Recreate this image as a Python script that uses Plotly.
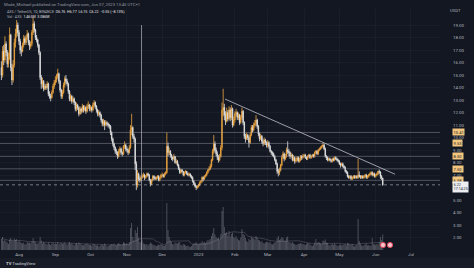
import plotly.graph_objects as go
import pandas as pd

# ---------------- data (AXS / TetherUS, 1D, Binance) ----------------
start_date = "2022-07-17"
first_open = 15.6

closes = [
    # Jul 17-31 2022
    15.0, 16.9, 16.2, 17.5, 16.8, 15.9, 16.4, 18.2, 15.6, 14.6, 15.8, 17.6, 18.3, 19.0, 18.4,
    # Aug
    17.7, 17.0, 16.9, 17.4, 17.9, 17.6, 18.0, 18.3, 17.6, 17.3, 17.5, 18.4, 19.1, 18.6, 18.0, 17.8,
    17.4, 16.8, 14.8, 14.3, 14.5, 13.9, 14.1, 14.0, 14.3, 13.5, 13.3, 13.2, 13.6, 14.1, 14.4,
    # Sep
    14.6, 14.9, 15.1, 14.5, 13.8, 13.3, 13.6, 14.2, 14.7, 14.5, 14.3, 13.7, 13.1, 13.3, 12.9,
    13.1, 12.8, 12.3, 12.6, 12.4, 11.9, 12.3, 12.1, 12.5, 12.2, 12.4, 12.1, 12.5, 12.6, 12.3,
    # Oct
    12.4, 12.2, 12.6, 12.8, 12.5, 12.2, 11.9, 12.0, 11.8, 11.4, 11.1, 11.3, 11.0, 11.2, 11.1, 11.0,
    10.9, 10.4, 9.9, 9.5, 9.2, 8.9, 8.8, 8.5, 8.9, 9.1, 8.8, 8.7, 9.3, 9.4, 9.1,
    # Nov
    9.0, 8.8, 9.2, 10.6, 10.8, 10.1, 9.9, 7.9, 6.2, 7.1, 6.7, 6.6, 6.8, 6.9, 7.0,
    6.8, 6.9, 7.1, 7.0, 6.6, 6.3, 6.6, 6.9, 6.8, 6.7, 6.8, 6.9, 6.6, 6.8, 7.0,
    # Dec
    7.0, 6.9, 7.1, 7.2, 9.3, 8.8, 8.9, 8.6, 8.4, 8.3, 8.5, 8.0, 8.1, 7.8, 7.5, 7.2,
    7.4, 7.3, 7.0, 7.2, 7.3, 7.1, 7.0, 7.1, 6.9, 6.8, 6.5, 6.3, 6.1, 6.0, 6.1,
    # Jan 2023
    6.2, 6.4, 6.5, 6.8, 6.7, 6.9, 7.0, 7.2, 7.4, 7.5, 7.7, 8.2, 8.9, 9.5, 9.0, 8.7,
    8.4, 8.2, 8.5, 9.2, 12.2, 12.4, 11.8, 11.3, 12.0, 11.5, 12.2, 11.6, 12.3, 11.0, 11.4,
    # Feb
    11.9, 12.0, 11.6, 11.8, 11.2, 11.6, 12.1, 11.2, 10.1, 9.9, 10.2, 10.0, 9.6, 10.2,
    10.8, 10.6, 11.0, 11.1, 11.4, 10.9, 10.3, 9.9, 10.1, 9.7, 9.5, 9.8, 9.6, 9.4,
    # Mar
    9.6, 9.3, 8.9, 8.8, 8.7, 8.5, 8.2, 7.9, 7.3, 7.2, 7.4, 7.8, 8.4, 8.7, 8.3, 8.5,
    9.0, 8.9, 8.8, 8.5, 8.6, 8.2, 8.4, 8.1, 8.2, 8.4, 8.1, 8.2, 8.5, 8.4, 8.5,
    # Apr
    8.6, 8.4, 8.3, 8.5, 8.6, 8.4, 8.5, 8.6, 8.5, 8.8, 8.9, 8.7, 9.0, 9.1, 9.2,
    9.3, 9.4, 9.1, 8.5, 8.4, 8.2, 8.3, 8.2, 8.1, 8.3, 8.2, 8.4, 8.3, 8.2, 8.1,
    # May
    7.9, 7.8, 7.9, 7.7, 7.6, 7.3, 7.2, 6.9, 6.8, 6.9, 6.7, 6.8, 6.9, 6.8, 6.9, 6.8,
    7.0, 6.9, 6.8, 6.9, 6.8, 6.9, 7.0, 6.8, 6.9, 7.0, 7.1, 7.2, 7.0, 7.1, 6.9,
    # Jun 1-7
    7.0, 7.1, 7.3, 7.25, 6.9, 6.76, 6.22,
]

highs = [
    16.1, 17.3, 17.4, 18.1, 17.7, 17.0, 16.8, 18.8, 18.3, 15.9, 16.2, 17.9, 18.7, 19.4, 19.2,
    18.6, 17.9, 17.3, 17.6, 18.2, 18.1, 18.2, 18.6, 18.4, 17.8, 17.7, 18.6, 19.6, 19.3, 18.7, 18.2,
    17.9, 17.5, 16.9, 15.0, 14.8, 14.6, 14.3, 14.3, 14.5, 14.4, 13.7, 13.5, 13.8, 14.3, 14.6,
    14.9, 15.1, 15.5, 15.2, 14.6, 13.9, 13.8, 14.4, 14.9, 15.0, 14.7, 14.4, 13.8, 13.5, 13.4,
    13.3, 13.2, 12.9, 12.8, 12.7, 12.5, 12.5, 12.4, 12.7, 12.6, 12.6, 12.5, 12.7, 12.9, 12.7,
    12.6, 12.5, 12.8, 13.0, 12.9, 12.6, 12.3, 12.2, 12.1, 11.9, 11.5, 11.5, 11.4, 11.4, 11.3, 11.2,
    11.1, 11.0, 10.5, 10.0, 9.6, 9.3, 9.1, 8.9, 9.1, 9.3, 9.2, 8.9, 9.4, 9.7, 9.5,
    9.3, 9.1, 9.4, 11.0, 11.9, 10.9, 10.3, 10.0, 8.1, 7.4, 7.2, 6.9, 7.0, 7.1, 7.2,
    7.1, 7.0, 7.2, 7.2, 7.1, 6.7, 6.7, 7.0, 7.0, 6.9, 6.9, 7.0, 7.0, 6.9, 7.1,
    7.2, 7.1, 7.2, 7.3, 10.4, 9.6, 9.2, 9.0, 8.7, 8.5, 8.7, 8.5, 8.3, 8.2, 7.9, 7.6,
    7.5, 7.5, 7.3, 7.3, 7.4, 7.3, 7.2, 7.2, 7.1, 7.0, 6.9, 6.6, 6.4, 6.2, 6.2,
    6.3, 6.5, 6.6, 6.9, 6.9, 7.0, 7.1, 7.3, 7.5, 7.7, 7.9, 8.3, 9.1, 10.2, 9.7, 9.2,
    8.9, 8.6, 8.7, 9.4, 12.8, 13.9, 12.7, 12.1, 12.4, 12.2, 12.5, 12.4, 12.6, 12.4, 11.7,
    12.1, 12.3, 12.1, 12.0, 11.9, 11.8, 12.4, 12.2, 11.3, 10.3, 10.4, 10.3, 10.1, 10.4,
    11.0, 11.0, 11.2, 11.4, 11.8, 11.5, 11.0, 10.4, 10.3, 10.2, 9.9, 10.0, 9.9, 9.7,
    9.8, 9.7, 9.4, 9.0, 8.9, 8.8, 8.6, 8.3, 8.0, 7.5, 7.6, 7.9, 8.6, 8.9, 8.8, 8.7,
    9.2, 9.7, 9.1, 8.9, 8.8, 8.7, 8.6, 8.5, 8.4, 8.5, 8.5, 8.4, 8.6, 8.6, 8.7,
    8.7, 8.7, 8.5, 8.6, 8.7, 8.7, 8.6, 8.7, 8.7, 8.9, 9.0, 9.0, 9.1, 9.2, 9.3,
    9.4, 9.6, 9.5, 9.2, 8.6, 8.5, 8.4, 8.4, 8.3, 8.4, 8.4, 8.5, 8.5, 8.4, 8.3,
    8.2, 8.0, 8.0, 8.0, 7.8, 7.7, 7.4, 7.3, 7.0, 7.0, 7.0, 6.9, 7.0, 7.0, 7.0, 7.0,
    8.3, 7.3, 7.0, 7.0, 7.0, 7.0, 7.1, 7.1, 7.0, 7.1, 7.2, 7.3, 7.3, 7.2, 7.2,
    7.1, 7.2, 7.35, 7.45, 7.3, 7.0, 6.77,
]

lows = [
    14.6, 14.8, 15.8, 16.0, 16.5, 15.6, 15.6, 16.2, 15.3, 14.2, 14.4, 15.6, 17.2, 18.0, 18.1,
    17.4, 16.7, 16.5, 16.8, 17.2, 17.4, 17.4, 17.8, 17.4, 17.0, 17.1, 17.3, 18.2, 18.4, 17.8, 17.6,
    17.2, 16.6, 14.6, 13.9, 14.0, 13.7, 13.8, 13.8, 13.9, 13.3, 13.1, 12.9, 13.1, 13.5, 13.9,
    14.2, 14.4, 14.7, 14.3, 13.6, 13.1, 13.1, 13.5, 14.0, 14.3, 14.1, 13.5, 12.9, 12.9, 12.7,
    12.8, 12.6, 12.1, 12.1, 12.2, 11.7, 11.8, 11.9, 12.0, 12.0, 12.1, 11.9, 12.0, 12.3, 12.1,
    12.1, 12.0, 12.1, 12.4, 12.3, 12.0, 11.7, 11.7, 11.6, 11.2, 10.9, 10.9, 10.6, 10.9, 10.9, 10.8,
    10.7, 10.2, 9.7, 9.3, 9.0, 8.7, 8.6, 8.3, 8.4, 8.7, 8.6, 8.5, 8.6, 9.1, 8.9,
    8.8, 8.6, 8.7, 9.1, 10.2, 9.9, 9.6, 7.4, 5.8, 6.0, 6.5, 6.4, 6.5, 6.7, 6.8,
    6.6, 6.7, 6.8, 6.9, 6.5, 6.1, 6.2, 6.5, 6.6, 6.6, 6.6, 6.7, 6.5, 6.5, 6.7,
    6.8, 6.8, 6.8, 7.0, 7.1, 8.5, 8.6, 8.4, 8.2, 8.1, 8.2, 7.9, 7.9, 7.7, 7.4, 7.1,
    7.1, 7.2, 6.9, 6.9, 7.1, 7.0, 6.9, 6.9, 6.8, 6.7, 6.4, 6.2, 6.0, 5.8, 5.9,
    6.0, 6.1, 6.3, 6.4, 6.5, 6.6, 6.8, 6.9, 7.1, 7.3, 7.4, 7.6, 8.1, 8.7, 8.8, 8.5,
    8.2, 8.0, 8.1, 8.4, 9.0, 11.7, 11.4, 11.0, 11.2, 11.3, 11.4, 11.3, 11.4, 10.8, 10.9,
    11.2, 11.7, 11.4, 11.4, 11.0, 11.1, 11.4, 11.0, 9.9, 9.6, 9.8, 9.8, 9.2, 9.5,
    10.1, 10.4, 10.5, 10.8, 10.9, 10.7, 10.1, 9.7, 9.8, 9.5, 9.3, 9.4, 9.4, 9.2,
    9.2, 9.1, 8.8, 8.6, 8.5, 8.4, 8.1, 7.8, 7.1, 6.9, 7.0, 7.3, 7.7, 8.3, 8.1, 8.2,
    8.4, 8.7, 8.5, 8.3, 8.4, 8.1, 8.1, 7.9, 8.0, 8.1, 8.0, 8.0, 8.1, 8.2, 8.3,
    8.4, 8.3, 8.2, 8.2, 8.4, 8.3, 8.3, 8.4, 8.4, 8.4, 8.7, 8.6, 8.6, 8.9, 9.0,
    9.1, 9.2, 9.0, 8.4, 8.2, 8.1, 8.1, 8.1, 8.0, 8.0, 8.1, 8.1, 8.2, 8.1, 8.0,
    7.8, 7.6, 7.7, 7.6, 7.5, 7.2, 7.1, 6.8, 6.7, 6.7, 6.6, 6.6, 6.7, 6.7, 6.7, 6.7,
    6.7, 6.8, 6.7, 6.7, 6.7, 6.7, 6.8, 6.7, 6.7, 6.8, 6.9, 7.0, 6.9, 6.9, 6.8,
    6.8, 6.9, 7.0, 7.1, 6.7, 6.6, 6.15,
]

volumes_m = [
    2.2, 2.6, 1.8, 2.0, 1.7, 1.5, 1.2, 2.1, 2.4, 1.9, 1.8, 2.3, 2.0, 2.2, 1.6,
    1.9, 1.6, 1.4, 1.3, 1.5, 1.1, 1.2, 1.6, 1.4, 1.5, 1.3, 1.7, 2.4, 1.8, 1.5, 1.2,
    1.3, 1.4, 2.6, 1.9, 1.3, 1.6, 1.4, 1.2, 1.1, 1.5, 1.2, 1.0, 1.3, 1.4, 1.2,
    1.3, 1.2, 1.6, 1.1, 1.3, 1.4, 1.2, 1.3, 1.5, 1.2, 1.0, 1.3, 1.6, 1.2, 1.3,
    1.1, 0.9, 1.2, 1.4, 1.1, 1.5, 1.3, 1.1, 1.0, 0.9, 1.1, 1.2, 1.3, 1.1, 1.0,
    1.0, 0.8, 1.1, 1.2, 1.0, 0.9, 1.0, 0.7, 0.8, 1.1, 1.0, 0.9, 1.3, 1.0, 0.7, 0.8,
    0.9, 1.0, 1.2, 1.1, 1.3, 1.0, 0.9, 1.2, 1.4, 1.2, 1.0, 1.1, 1.6, 1.4, 1.2,
    1.3, 1.2, 1.6, 4.4, 5.4, 2.6, 1.9, 4.0, 3.4, 4.6, 2.5, 1.6, 1.5, 1.9, 1.3,
    1.2, 1.1, 1.2, 0.9, 1.2, 1.5, 1.3, 1.1, 1.0, 0.9, 0.8, 0.9, 1.1, 1.0, 1.2,
    1.0, 0.9, 0.8, 1.0, 9.4, 4.0, 2.6, 1.9, 1.6, 1.2, 1.1, 1.5, 1.4, 1.3, 1.5, 1.6,
    1.0, 0.9, 1.2, 1.1, 0.9, 0.8, 0.9, 0.7, 0.6, 0.8, 1.1, 1.3, 1.4, 1.6, 1.2,
    1.1, 1.3, 1.4, 1.8, 1.5, 1.6, 1.4, 1.7, 2.0, 1.9, 2.2, 2.8, 3.4, 4.4, 3.1, 2.6,
    2.3, 2.5, 2.0, 3.2, 7.8, 8.6, 4.6, 3.4, 3.6, 2.9, 3.8, 2.7, 3.2, 3.5, 2.6,
    2.4, 2.8, 2.3, 2.0, 1.9, 2.5, 4.2, 3.2, 3.0, 2.4, 1.8, 1.6, 2.2, 2.0,
    2.6, 2.4, 2.3, 2.1, 2.8, 2.4, 2.0, 1.9, 1.6, 1.8, 1.4, 1.3, 1.5, 1.6,
    1.6, 1.4, 1.7, 1.2, 1.1, 1.3, 1.5, 1.6, 2.4, 2.8, 2.0, 2.2, 2.6, 2.4, 1.9, 1.8,
    2.5, 2.7, 1.6, 1.5, 1.4, 1.6, 1.3, 1.2, 1.0, 1.1, 1.3, 1.2, 1.4, 1.3, 1.2,
    1.1, 1.0, 1.2, 1.4, 1.3, 1.1, 0.9, 0.8, 1.0, 1.5, 2.2, 1.4, 1.6, 1.5, 1.3,
    1.2, 1.9, 1.8, 2.1, 1.5, 1.4, 1.0, 0.9, 1.1, 1.2, 1.0, 1.3, 1.1, 0.9, 0.8,
    1.0, 1.1, 0.9, 1.0, 1.1, 1.2, 0.9, 1.4, 1.3, 1.1, 1.0, 1.2, 0.8, 0.7, 0.9, 1.0,
    6.2, 1.8, 1.2, 0.9, 0.8, 1.0, 1.1, 1.3, 0.9, 1.0, 0.8, 0.9, 2.4, 1.2, 1.1,
    1.0, 1.2, 1.1, 1.6, 2.6, 2.0, 3.1,
]

# drawings
level_prices = [10.41, 9.53, 8.50, 7.50, 6.58]
level_labels = ["10.41", "9.53", "8.50", "7.50", "6.58"]
trend_dates = ["2023-01-23 14:00", "2023-06-17 10:00"]
trend_prices = [13.08, 7.07]
vline_date = "2022-11-13 10:00"
vline_top = 19.0
last_price = 6.22

month_ticks = ["2022-08-01", "2022-09-01", "2022-10-01", "2022-11-01", "2022-12-01",
               "2023-01-01", "2023-02-01", "2023-03-01", "2023-04-01", "2023-05-01",
               "2023-06-01", "2023-07-01", "2023-08-01"]
month_labels = ["Aug", "Sep", "Oct", "Nov", "Dec", "2023", "Feb", "Mar", "Apr", "May",
                "Jun", "Jul", "Aug"]
price_ticks = [2, 3, 4, 5, 7, 8, 9, 10, 11, 12, 13, 14, 15, 16, 17, 18, 19]

# ---------------- build ----------------
dates = pd.date_range(start_date, periods=len(closes), freq="D")
opens = [first_open] + closes[:-1]
highs = [max(h, o, c) for h, o, c in zip(highs, opens, closes)]
lows = [min(l, o, c) for l, o, c in zip(lows, opens, closes)]
vol_ma = pd.Series(volumes_m).rolling(20, min_periods=1).mean()

BG = "#131722"
UP = "#eea640"
DOWN = "#e6e6e6"
TXT = "#b2b5be"
FONT = "Roboto"

# pixel helpers for the plot area (0..440 x, 9..250 y)
PL, PR, PT, PB = 0, 440, 9, 250
def px(x):
    return (x - PL) / (PR - PL)
def py(y):
    return (PB - y) / (PB - PT)

fig = go.Figure()

fig.add_trace(go.Bar(
    x=dates, y=volumes_m, yaxis="y2",
    marker=dict(color="rgba(190,192,200,0.38)", line=dict(width=0)),
    showlegend=False, hoverinfo="skip",
))
fig.add_trace(go.Scatter(
    x=dates, y=vol_ma, yaxis="y2", mode="lines",
    line=dict(color="rgba(160,160,170,0.4)", width=0.7),
    showlegend=False, hoverinfo="skip",
))
fig.add_trace(go.Candlestick(
    x=dates, open=opens, high=highs, low=lows, close=closes,
    increasing=dict(line=dict(color=UP, width=0.8), fillcolor=UP),
    decreasing=dict(line=dict(color=DOWN, width=0.8), fillcolor=DOWN),
    whiskerwidth=0, showlegend=False,
))

shapes = []
for p in level_prices:
    shapes.append(dict(type="line", xref="paper", yref="y", x0=0, x1=1, y0=p, y1=p,
                       line=dict(color="rgba(178,181,190,0.38)", width=1)))
shapes.append(dict(type="line", xref="paper", yref="y", x0=0, x1=1, y0=last_price, y1=last_price,
                   line=dict(color="rgba(220,222,228,0.5)", width=1, dash="dot")))
shapes.append(dict(type="line", xref="x", yref="y", x0=trend_dates[0], x1=trend_dates[1],
                   y0=trend_prices[0], y1=trend_prices[1],
                   line=dict(color="rgba(190,193,200,0.8)", width=1)))
shapes.append(dict(type="line", xref="x", yref="paper", x0=vline_date, x1=vline_date,
                   y0=0, y1=py(25), line=dict(color="rgba(170,172,180,0.75)", width=1)))
# bottom strip
shapes.append(dict(type="rect", xref="paper", yref="paper", x0=px(0), x1=px(474),
                   y0=py(268), y1=py(258), fillcolor="#181c27", line=dict(width=0), layer="below"))
# event icons
for cx in [383, 390]:
    shapes.append(dict(type="circle", xref="paper", yref="paper",
                       x0=px(cx - 2.6), x1=px(cx + 2.6), y0=py(247.6), y1=py(242.4),
                       fillcolor="#f3c6cc", line=dict(color="#e0445a", width=1)))

ann = []
def text(x, y, s, size=4.4, color=TXT, xanchor="left", **kw):
    ann.append(dict(xref="paper", yref="paper", x=px(x), y=py(y), text=s, showarrow=False,
                    xanchor=xanchor, yanchor="middle",
                    font=dict(family=FONT, size=size, color=color), **kw))

text(2, 4.5, "Mode_Michael published on TradingView.com, Jun 07, 2023 13:45 UTC+1", size=4.2, color="#9598a1")
text(5, 12.5, "AXS / TetherUS, 1D, BINANCE&nbsp;&nbsp;<span style='color:#e6e6e6'>O6.76&nbsp; H6.77&nbsp; L6.15&nbsp; C6.22&nbsp; −0.55 (−8.13%)</span>",
     size=3.6)
text(5, 17, "Vol · AXS&nbsp;&nbsp;<span style='color:#e6e6e6'>1.465M&nbsp; 3.086M</span>", size=3.6)
text(455, 11, "USDT", size=4.2, xanchor="center")
text(4, 263, "<b>TV</b> TradingView", size=4.2, color="#d1d4dc")

for p, lab in zip(level_prices, level_labels):
    ann.append(dict(xref="paper", yref="y", x=px(452), y=p, text=lab, showarrow=False,
                    xanchor="left", yanchor="middle", bgcolor="#f2c67f", borderpad=0.6,
                    font=dict(family=FONT, size=4.0, color="#131722")))
ann.append(dict(xref="paper", yref="paper", x=px(452), y=py(187), text="6.22<br>17:14:25",
                showarrow=False, xanchor="left", yanchor="middle", bgcolor="#eceef2",
                borderpad=0.8, align="left",
                font=dict(family=FONT, size=3.6, color="#131722")))

fig.update_layout(
    width=474, height=268,
    margin=dict(l=PL, r=474 - PR, t=PT, b=268 - PB),
    paper_bgcolor=BG, plot_bgcolor=BG,
    showlegend=False,
    shapes=shapes, annotations=ann,
    bargap=0.25,
    xaxis=dict(type="date", range=["2022-07-15 19:26", "2023-07-25 19:00"],
               tickvals=month_ticks, ticktext=month_labels,
               tickfont=dict(family=FONT, size=4.4, color=TXT),
               showgrid=True, gridcolor="#1a1e29", gridwidth=1, zeroline=False,
               ticks="", rangeslider=dict(visible=False), showline=False,
               ticklabelstandoff=1),
    yaxis=dict(side="right", range=[1.01, 20.28], tickvals=price_ticks,
               ticktext=[f"{v:.2f}" for v in price_ticks],
               tickfont=dict(family=FONT, size=4.4, color=TXT),
               showgrid=True, gridcolor="#1a1e29", gridwidth=1, zeroline=False,
               ticks="", ticklabelstandoff=12, showline=False),
    yaxis2=dict(overlaying="y", range=[0, 48.2], visible=False, fixedrange=True),
)

fig.write_html("out.html")
